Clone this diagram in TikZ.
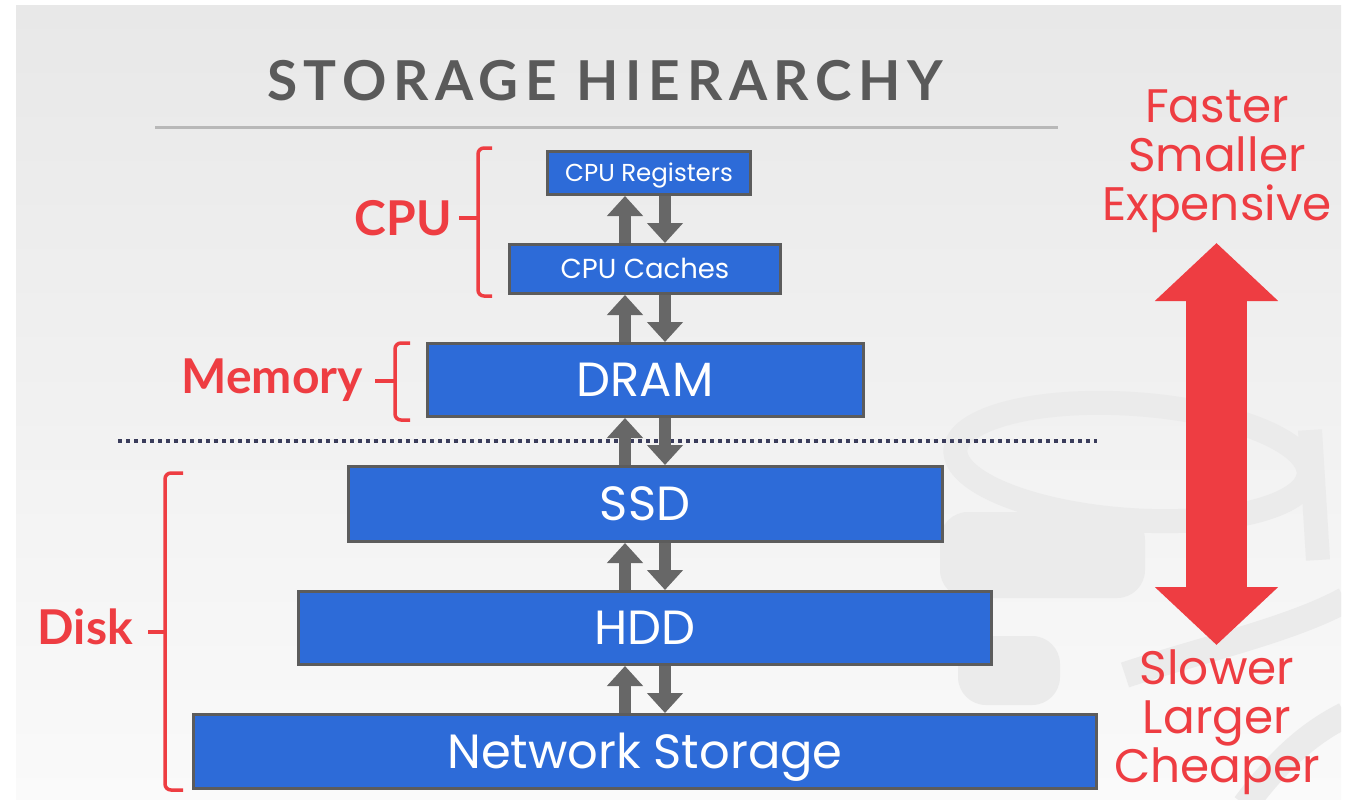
\documentclass[tikz,border=0pt]{standalone}
\usepackage{fontspec}
\setmainfont{Lato}
\newfontfamily\titlefont[LetterSpace=12]{Lato}
\newfontfamily\boxfont{Poppins}
\usepackage{tikz}
\usetikzlibrary{arrows.meta}
\tikzset{>={Triangle[width=35pt,length=20pt]}}
\definecolor{hired}{HTML}{EE3D42}
\definecolor{boxblue}{HTML}{2D6BD8}
\definecolor{boxgray}{HTML}{5C5C5C}
\definecolor{arrowgray}{HTML}{676767}
\definecolor{titlegray}{HTML}{5A5A5A}
\definecolor{rulegray}{HTML}{B8B8B8}
\definecolor{dotnavy}{HTML}{3B3D5C}
\definecolor{logogray}{HTML}{EBEBEB}
\definecolor{bgtop}{HTML}{E8E8E8}
\definecolor{bgbot}{HTML}{FAFAFA}
\newcommand{\RED}[1]{\textcolor{hired}{#1}}
\tikzset{
  tierbox/.style={draw=boxgray, line width=3pt, fill=boxblue, text=white,
    inner sep=0pt, text depth=0pt},
  updown/.style={arrowgray, line width=12pt},
  brace/.style={hired, line width=3.5pt, rounded corners=6pt},
  sidelbl/.style={anchor=east, inner sep=0pt, text height=34pt, text depth=0pt,
    font=\bfseries\fontsize{48}{50}\selectfont},
  tradeoff/.style={align=center, anchor=north, inner sep=0pt, text=hired,
    font=\boxfont\fontsize{47}{49}\selectfont},
}

\begin{document}
\begin{tikzpicture}[x=1pt, y=-1pt]

  \newcommand\cx{645};
  \newcommand\dx{20};

  \useasboundingbox (0,0) rectangle (1355,800);
  \fill[white] (0,0) rectangle (1355,800);
  \shade[top color=bgtop, bottom color=bgbot] (16,6) rectangle (1341,800);

  % faint logo behind the right side
  \begin{scope}
    \clip (16,6) rectangle (1341,800);
    \draw[logogray, line width=24pt, rotate around={-4:(1132,462)}]
      (1132,462) ellipse [x radius=177, y radius=58];
    \fill[logogray, rounded corners=28pt] (940,512) rectangle (1145,598);
    \fill[logogray, rounded corners=28pt] (958,636) rectangle (1060,705);
    \draw[logogray, line width=24pt] (1310,430) -- (1318,560);
    \draw[logogray, line width=26pt]
      (1125,675) .. controls (1200,650) and (1290,630) .. (1345,600);
    \draw[logogray, line width=26pt]
      (1245,805) .. controls (1275,765) and (1305,735) .. (1345,715);
  \end{scope}

  % title
  \node[font=\titlefont\bfseries\fontsize{55}{60}\selectfont, text=titlegray,
    inner sep=0pt, text height=40pt, text depth=0pt] (title) at (605,80)
    {STORAGE HIERARCHY};
  \draw[rulegray, line width=3pt] (155,127) -- (1058,127);

  % the levels
  \node[tierbox, minimum width=203pt, minimum height=43pt, text height=17pt,
    font=\boxfont\fontsize{24.5}{26}\selectfont] (reg) at (649,173) {CPU Registers};
  \node[tierbox, minimum width=271pt, minimum height=49pt, text height=19.5pt,
    font=\boxfont\fontsize{27.5}{29}\selectfont] (caches) at (\cx,269) {CPU Caches};
  \node[tierbox, minimum width=436pt, minimum height=73pt, text height=33pt,
    font=\boxfont\fontsize{48}{50}\selectfont] (dram) at (\cx,380) {DRAM};

  \draw[dotnavy, line width=4pt, dash pattern=on 4pt off 4pt]
    (118,441) -- (1097,441);

  \node[tierbox, minimum width=594pt, minimum height=75pt, text height=33pt,
    font=\boxfont\fontsize{48}{50}\selectfont] (ssd) at (\cx,504) {SSD};
  \node[tierbox, minimum width=693pt, minimum height=73pt, text height=33pt,
    font=\boxfont\fontsize{48}{50}\selectfont] (hdd) at (\cx,628) {HDD};
  \node[tierbox, minimum width=903pt, minimum height=74pt, text height=33pt,
    font=\boxfont\fontsize{48}{50}\selectfont] (net) at (\cx,751.5) {Network Storage};

  % up / down arrows between levels
  \draw[->, updown] ([xshift=-\dx pt]caches.north) -- ([xshift=-\dx pt]caches.north |- reg.south);
  \draw[->, updown] ([xshift=\dx pt]caches.north |- reg.south) -- ([xshift=\dx pt]caches.north);
  \draw[->, updown] ([xshift=-\dx pt]dram.north) -- ([xshift=-\dx pt]caches.south);
  \draw[->, updown] ([xshift=\dx pt]caches.south) -- ([xshift=\dx pt]dram.north);
  \draw[->, updown] ([xshift=-\dx pt]ssd.north) -- ([xshift=-\dx pt]dram.south);
  \draw[->, updown] ([xshift=\dx pt]dram.south) -- ([xshift=\dx pt]ssd.north);
  \draw[->, updown] ([xshift=-\dx pt]hdd.north) -- ([xshift=-\dx pt]ssd.south);
  \draw[->, updown] ([xshift=\dx pt]ssd.south) -- ([xshift=\dx pt]hdd.north);
  \draw[->, updown] ([xshift=-\dx pt]net.north) -- ([xshift=-\dx pt]hdd.south);
  \draw[->, updown] ([xshift=\dx pt]hdd.south) -- ([xshift=\dx pt]net.north);

  % groups on the left
  \node[sidelbl] (cpulbl) at (452,218) {\RED{CPU}};
  \draw[brace] (492,148) -- (478,148) -- (478,296) -- (492,296);
  \draw[brace, rounded corners=0pt] (459,218) -- (478,218);

  \node[sidelbl] (memlbl) at (363,376) {\RED{Memory}};
  \draw[brace] (410,343) -- (395,343) -- (395,420) -- (410,420);
  \draw[brace, rounded corners=0pt] (375,381) -- (395,381);

  \node[sidelbl] (disklbl) at (133,627) {\RED{Disk}};
  \draw[brace] (183,473) -- (165,473) -- (165,790) -- (183,790);
  \draw[brace, rounded corners=0pt] (148,632) -- (165,632);

  % speed / size / cost
  \node[tradeoff] (fasttxt) at (1217,90) {Faster\\Smaller\\Expensive};
  \node[tradeoff] (slowtxt) at (1217,650) {Slower\\Larger\\Cheaper};
  \coordinate (fast) at (1216.5,243);
  \coordinate (slow) at (1216.5,645);
  \draw[hired, line width=61pt,
    {Triangle[width=120pt,length=58pt]}-{Triangle[width=120pt,length=58pt]}]
    (slow) -- (fast);
\end{tikzpicture}
\end{document}
